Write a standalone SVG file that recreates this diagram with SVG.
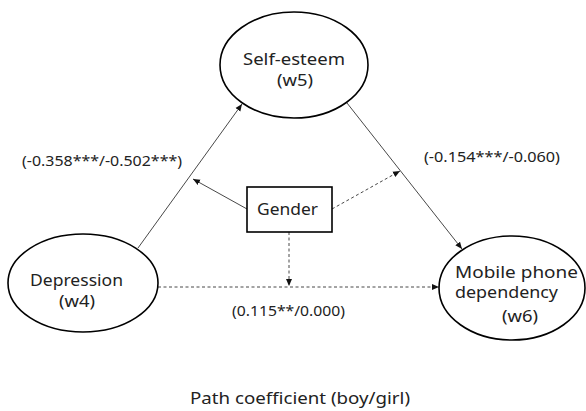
<svg xmlns="http://www.w3.org/2000/svg" width="586" height="411" viewBox="0 0 586 411">
<style>
text{font-family:"Noto Sans","Open Sans","DejaVu Sans",sans-serif;font-size:16px;fill:#222;}
.lbl{font-size:14px;}
.cap{font-size:17px;}
.node{fill:#fff;stroke:#000;stroke-width:1.6;}
.c{fill:none;stroke:#333;stroke-width:0.9;}
.d{stroke-dasharray:3,2.5;}
</style>
<defs>
<marker id="ah" markerWidth="8" markerHeight="8" refX="7" refY="4" orient="auto" markerUnits="userSpaceOnUse">
<path d="M0,1 L7,4 L0,7 Z" fill="#111"/>
</marker>
</defs>
<rect width="586" height="411" fill="#fff"/>
<g id="connectors">
<line class="c" x1="138" y1="248" x2="242" y2="104" marker-end="url(#ah)"/>
<line class="c" x1="347" y1="103" x2="462" y2="249" marker-end="url(#ah)"/>
<line class="c" x1="247" y1="209" x2="193" y2="179" marker-end="url(#ah)"/>
<line class="c d" x1="332" y1="209" x2="400" y2="171" marker-end="url(#ah)"/>
<line class="c d" x1="289" y1="232" x2="289" y2="286" marker-end="url(#ah)"/>
<line class="c d" x1="158" y1="287" x2="439" y2="287" marker-end="url(#ah)"/>
</g>
<g id="self-esteem">
<ellipse class="node" cx="294" cy="65" rx="74" ry="53"/>
<text x="243" y="65" textLength="102" lengthAdjust="spacingAndGlyphs">Self-esteem</text>
<text x="277" y="86" textLength="36" lengthAdjust="spacingAndGlyphs">(w5)</text>
</g>
<g id="depression">
<ellipse class="node" cx="83" cy="283" rx="75" ry="49"/>
<text x="30" y="286" textLength="93" lengthAdjust="spacingAndGlyphs">Depression</text>
<text x="59" y="307" textLength="36" lengthAdjust="spacingAndGlyphs">(w4)</text>
</g>
<g id="mobile">
<ellipse class="node" cx="512" cy="288" rx="73" ry="52"/>
<text x="455" y="278" textLength="123" lengthAdjust="spacingAndGlyphs">Mobile phone</text>
<text x="455" y="298" textLength="103" lengthAdjust="spacingAndGlyphs">dependency</text>
<text x="502" y="322" textLength="36" lengthAdjust="spacingAndGlyphs">(w6)</text>
</g>
<g id="gender">
<rect class="node" x="247" y="187" width="85" height="45"/>
<text x="257" y="215" textLength="61" lengthAdjust="spacingAndGlyphs">Gender</text>
</g>
<g id="labels">
<text class="lbl" x="22" y="166" textLength="160" lengthAdjust="spacingAndGlyphs">(-0.358***/-0.502***)</text>
<text class="lbl" x="424" y="162" textLength="136" lengthAdjust="spacingAndGlyphs">(-0.154***/-0.060)</text>
<text class="lbl" x="232" y="316" textLength="113" lengthAdjust="spacingAndGlyphs">(0.115**/0.000)</text>
<text class="cap" x="190" y="404" textLength="220" lengthAdjust="spacingAndGlyphs">Path coefficient (boy/girl)</text>
</g>
</svg>
